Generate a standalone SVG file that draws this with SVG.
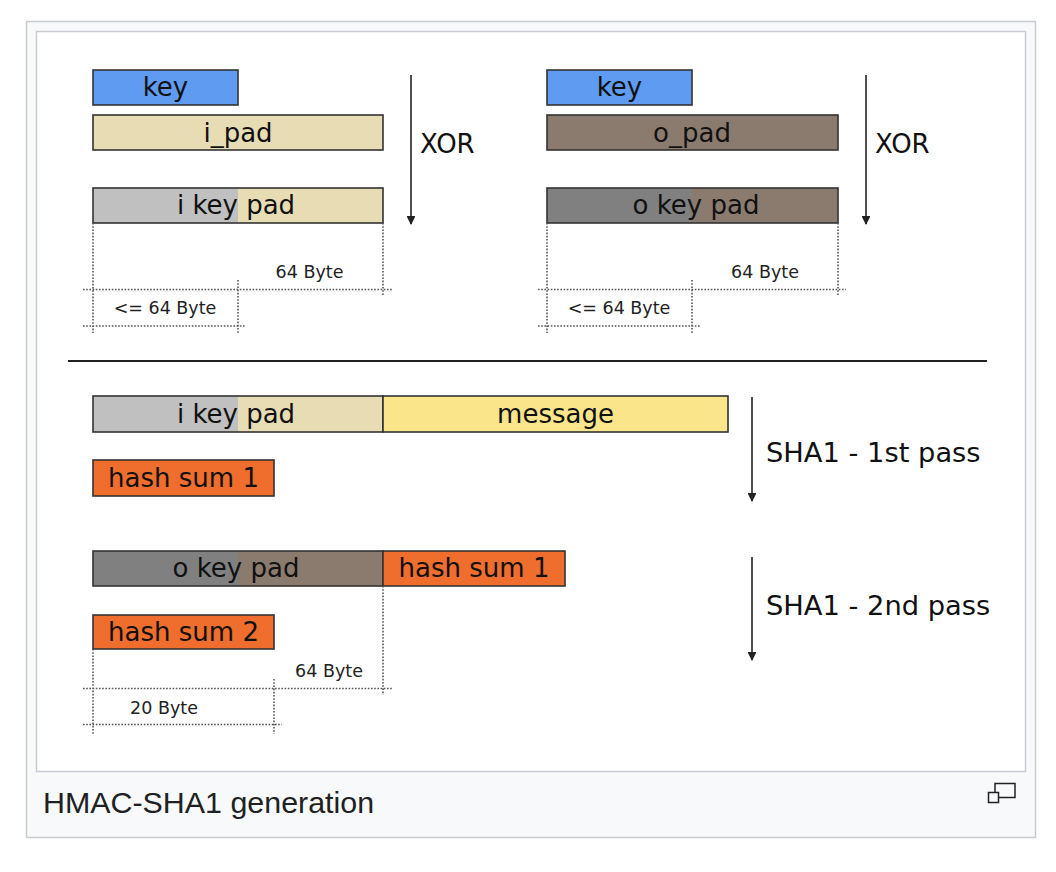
<svg xmlns="http://www.w3.org/2000/svg" width="1056" height="872" viewBox="0 0 1056 872">
<style>
.t{font-family:"DejaVu Sans",sans-serif;font-size:26px;fill:#111;text-anchor:middle}
.s{font-family:"DejaVu Sans",sans-serif;font-size:17.5px;fill:#222;text-anchor:middle}
.l{font-family:"DejaVu Sans",sans-serif;font-size:27.3px;fill:#111}
.b{stroke:#333;stroke-width:1.6}
.d{stroke:#555;stroke-width:1.6;stroke-dasharray:1.6 1.6;fill:none}
.a{stroke:#222;stroke-width:1.6;fill:none}
</style>
<defs>
<marker id="ah" viewBox="0 0 10 10" refX="9" refY="5" markerWidth="5.5" markerHeight="5.5" orient="auto" markerUnits="strokeWidth">
<path d="M0,0 L10,5 L0,10 z" fill="#222"/>
</marker>
</defs>
<rect x="0" y="0" width="1056" height="872" fill="#fff"/>
<rect x="26.5" y="21.5" width="1009" height="816" fill="#f8f9fa" stroke="#c8ccd1" stroke-width="1.5"/>
<rect x="36.5" y="31.5" width="989" height="740" fill="#fff" stroke="#c8ccd1" stroke-width="1.5"/>

<g id="key-left"><rect x="93" y="70" width="145" height="35" fill="#5f9bf0" class="b"/><text x="165.5" y="96" class="t">key</text></g>
<g id="ipad"><rect x="93" y="115" width="290" height="35" fill="#e8dcb5" class="b"/><text x="238" y="142" class="t">i_pad</text></g>
<g id="ikeypad-top"><rect x="93" y="188" width="145" height="35" fill="#c0c0c0"/><rect x="238" y="188" width="145" height="35" fill="#e8dcb5"/><rect x="93" y="188" width="290" height="35" fill="none" class="b"/><text x="236" y="214" class="t">i key pad</text></g>

<g id="key-right"><rect x="547" y="70" width="145" height="35" fill="#5f9bf0" class="b"/><text x="619.5" y="96" class="t">key</text></g>
<g id="opad"><rect x="547" y="115" width="291" height="35" fill="#8b7b6e" class="b"/><text x="692" y="142" class="t">o_pad</text></g>
<g id="okeypad-top"><rect x="547" y="188" width="145" height="35" fill="#808080"/><rect x="692" y="188" width="146" height="35" fill="#8b7b6e"/><rect x="547" y="188" width="291" height="35" fill="none" class="b"/><text x="696" y="214" class="t">o key pad</text></g>

<g id="ikeypad-bottom"><rect x="93" y="396" width="145" height="36" fill="#c0c0c0"/><rect x="238" y="396" width="145" height="36" fill="#e8dcb5"/><rect x="93" y="396" width="290" height="36" fill="none" class="b"/><text x="236" y="423" class="t">i key pad</text></g>
<g id="message"><rect x="383" y="396" width="345" height="36" fill="#fbe58b" class="b"/><text x="555.5" y="423" class="t">message</text></g>
<g id="hash1"><rect x="93" y="460" width="181" height="36" fill="#ef6d2d" class="b"/><text x="183.5" y="487" class="t">hash sum 1</text></g>

<g id="okeypad-bottom"><rect x="93" y="551" width="145" height="35" fill="#808080"/><rect x="238" y="551" width="145" height="35" fill="#8b7b6e"/><rect x="93" y="551" width="290" height="35" fill="none" class="b"/><text x="236" y="577" class="t">o key pad</text></g>
<g id="hash1b"><rect x="383" y="551" width="182" height="35" fill="#ef6d2d" class="b"/><text x="474" y="577" class="t">hash sum 1</text></g>
<g id="hash2"><rect x="93" y="615" width="181" height="34" fill="#ef6d2d" class="b"/><text x="183.5" y="641" class="t">hash sum 2</text></g>

<g id="connectors">
<line x1="411" y1="75" x2="411" y2="224" class="a" marker-end="url(#ah)"/>
<line x1="866" y1="75" x2="866" y2="224" class="a" marker-end="url(#ah)"/>
<line x1="752" y1="397" x2="752" y2="501" class="a" marker-end="url(#ah)"/>
<line x1="752" y1="557" x2="752" y2="660" class="a" marker-end="url(#ah)"/>
<line x1="68" y1="361" x2="987" y2="361" stroke="#222" stroke-width="2"/>
</g>

<g id="dims">
<path class="d" d="M93,223 V333 M383,223 V296 M238,280 V333 M83,289.5 H392 M83,326 H246"/>
<path class="d" d="M547,223 V333 M838,223 V296 M692,280 V333 M538,289.5 H846 M538,326 H701"/>
<path class="d" d="M383,586 V695 M83,688.5 H392 M93,649 V734 M274,679 V734 M83,724.5 H282"/>
<text x="309.5" y="278" class="s">64 Byte</text>
<text x="165" y="314" class="s">&lt;= 64 Byte</text>
<text x="765" y="278" class="s">64 Byte</text>
<text x="619" y="314" class="s">&lt;= 64 Byte</text>
<text x="329" y="677" class="s">64 Byte</text>
<text x="164" y="714" class="s">20 Byte</text>
</g>

<g id="labels">
<text x="420" y="153" class="l" style="font-size:26px">XOR</text>
<text x="875" y="153" class="l" style="font-size:26px">XOR</text>
<text x="766" y="462" class="l">SHA1 - 1st pass</text>
<text x="766" y="615" class="l">SHA1 - 2nd pass</text>
</g>

<text x="43" y="813" font-family="Liberation Sans, Arial, sans-serif" font-size="30.4" fill="#202122">HMAC-SHA1 generation</text>
<g id="icon" fill="none" stroke="#202122" stroke-width="1.5">
<rect x="995" y="783.5" width="20" height="14"/>
<rect x="988.5" y="792.5" width="10" height="10" fill="#f8f9fa"/>
</g>
</svg>
